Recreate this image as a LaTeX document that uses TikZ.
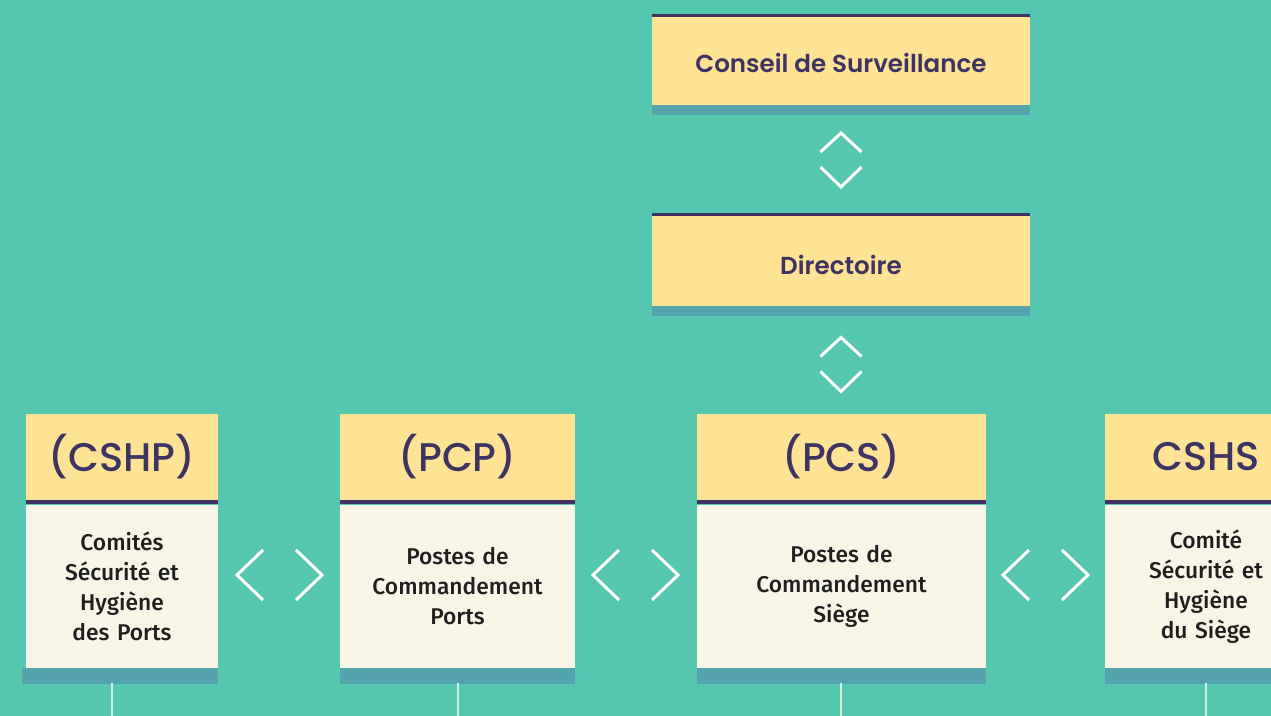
\documentclass[tikz,border=0pt]{standalone}
\usepackage{fontspec}
\setmainfont{Fira Sans}[UprightFont=* Medium]
\newfontfamily\headfont{Poppins}[UprightFont=* Medium]
\newfontfamily\topfont{Poppins}[UprightFont=* SemiBold]
\usetikzlibrary{positioning,calc}

\definecolor{bgteal}{HTML}{55C6AF}
\definecolor{headyel}{HTML}{FFE395}
\definecolor{bodycream}{HTML}{F9F5E6}
\definecolor{barteal}{HTML}{55A3AD}
\definecolor{navy}{HTML}{3F3364}
\definecolor{stemc}{HTML}{D2EDD9}

\tikzset{
  head/.style={fill=headyel,text=navy,inner sep=0pt},
  tophead/.style={head,minimum width=189pt,text depth=0pt,font=\topfont\fontsize{12.3}{14}\selectfont},
  unithead/.style={head,minimum height=43pt,font=\headfont\fontsize{20}{24}\selectfont},
  unitbody/.style={fill=bodycream,text=black!88,inner sep=0pt,align=center,
                   minimum height=81.5pt,font=\fontsize{11.4}{15}\selectfont},
  chev/.style={draw=white,line width=1.5pt},
  stemline/.style={draw=stemc,line width=0.75pt}
}

\begin{document}
\begin{tikzpicture}[x=0.5pt,y=-0.5pt]
  \fill[bgteal] (0,0) rectangle (1271,716);
  \useasboundingbox (0,0) rectangle (1271,716);
  \clip (0,0) rectangle (1271,716);

  % top of the chart
  \node[tophead,minimum height=44pt,text height=11.3pt] (conseil)    at (841,61)  {Conseil de Surveillance};
  \node[tophead,minimum height=45pt,text height=13.3pt] (directoire) at (841,261) {Directoire};

  % the four units
  \node[unithead,minimum width=96pt]    (cshp) at (122,457)    {(CSHP)};
  \node[unithead,minimum width=117.5pt] (pcp)  at (457.5,457)  {(PCP)};
  \node[unithead,minimum width=144.5pt] (pcs)  at (841.5,457)  {(PCS)};
  \node[unithead,minimum width=101pt]   (cshs) at (1206,457)   {CSHS};

  \node[unitbody,text width=96pt,below=2pt of cshp]    (cshpbody) {Comités\\Sécurité et\\Hygiène\\des Ports};
  \node[unitbody,text width=117.5pt,below=2pt of pcp]  (pcpbody)  {Postes de\\Commandement\\Ports};
  \node[unitbody,text width=144.5pt,below=2pt of pcs]  (pcsbody)  {Postes de\\Commandement\\Siège};
  \node[unitbody,text width=101pt,below=2pt of cshs]   (cshsbody) {Comité\\Sécurité et\\Hygiène\\du Siège};

  % rules and bars
  \foreach \n in {conseil,directoire} {
    \fill[navy] ($(\n.north west)+(0,-3)$) rectangle (\n.north east);
    \fill[barteal] (\n.south west) rectangle ($(\n.south east)+(0,10)$);
  }
  \foreach \n in {cshp,pcp,pcs,cshs} {
    \fill[navy] (\n.south west) rectangle (\n body.north east);
  }
  \fill[barteal] ($(cshpbody.south west)+(-4,0)$) rectangle ($(cshpbody.south east)+(0,16)$);
  \foreach \n in {pcp,pcs,cshs}
    \fill[barteal] (\n body.south west) rectangle ($(\n body.south east)+(0,16)$);

  % stems
  \coordinate (s1) at (112,716);
  \coordinate (s2) at (458,716);
  \coordinate (s3) at (841,716);
  \coordinate (s4) at (1206,716);
  \foreach \s in {s1,s2,s3,s4}
    \draw[stemline] (\s) -- ++(0,-33);

  % chevrons
  \coordinate (v1) at (841,160);
  \coordinate (v2) at (841,364.5);
  \foreach \v in {v1,v2} {
    \draw[chev] ($(\v)+(-20.5,-8)$) -- ($(\v)+(0,-27)$) -- ($(\v)+(20.5,-8)$);
    \draw[chev] ($(\v)+(-20.5,7)$) -- ($(\v)+(0,27)$) -- ($(\v)+(20.5,7)$);
  }
  \coordinate (h1) at (279.5,575);
  \coordinate (h2) at (635.5,575);
  \coordinate (h3) at (1045.5,575);
  \foreach \h in {h1,h2,h3} {
    \draw[chev] ($(\h)+(-16.5,-25)$) -- ($(\h)+(-42.5,0)$) -- ($(\h)+(-16.5,25)$);
    \draw[chev] ($(\h)+(16.5,-25)$) -- ($(\h)+(42.5,0)$) -- ($(\h)+(16.5,25)$);
  }
\end{tikzpicture}
\end{document}
